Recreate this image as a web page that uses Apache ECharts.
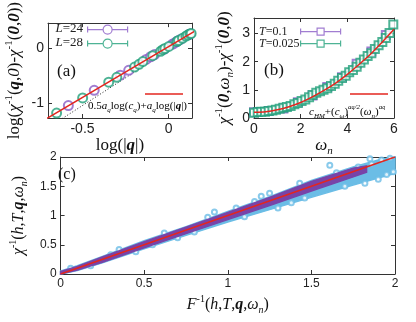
<!DOCTYPE html>
<html>
<head>
<meta charset="utf-8">
<script src="https://cdn.jsdelivr.net/npm/echarts@6/dist/echarts.min.js"></script>
<style>
html, body { margin: 0; padding: 0; background: #fff; }
#main { width: 416px; height: 322px; }
</style>
</head>
<body>
<div id="main"></div>
<script>
// ---- panel (a): log(|q|) vs log(chi^-1) ----
const qL24 = [-0.582, -0.432, -0.281, -0.232, -0.131, -0.105, -0.082, -0.025, 0.020, 0.033, 0.046, 0.068, 0.117, 0.125];
const chiL24 = [-1.05, -0.77, -0.49, -0.40, -0.20, -0.15, -0.11, -0.01, 0.08, 0.10, 0.13, 0.17, 0.26, 0.27];
const qL28 = [-0.650, -0.499, -0.348, -0.301, -0.198, -0.172, -0.150, -0.093, -0.047, -0.034, -0.022, 0.001, 0.048, 0.057, 0.080, 0.100, 0.110, 0.124, 0.130];
const chiL28 = [-1.19, -0.91, -0.62, -0.53, -0.34, -0.29, -0.24, -0.13, -0.05, -0.02, 0.00, 0.04, 0.13, 0.15, 0.19, 0.23, 0.25, 0.27, 0.28];
const fitAx = [-0.75, 0.15];
const fitAy = [-1.37, 0.32];
const guideAx = [-0.72, 0.15];
const guideAy = [-1.50, 0.28];
const ticksAx = [-0.5, 0];
const ticksAy = [-1, 0];

// ---- panel (b): omega_n dependence ----
const wT01 = [0, 0.63, 1.26, 1.88, 2.51, 3.14, 3.77, 4.40, 5.03, 5.65];
const chiT01 = [0.20, 0.25, 0.34, 0.56, 0.80, 1.10, 1.45, 1.93, 2.36, 2.95];
const wT0025 = [0, 0.16, 0.31, 0.47, 0.63, 0.79, 0.94, 1.10, 1.26, 1.41, 1.57, 1.73, 1.88, 2.04, 2.20, 2.36, 2.51, 2.67, 2.83, 2.98,
  3.14, 3.30, 3.46, 3.61, 3.77, 3.93, 4.08, 4.24, 4.40, 4.56, 4.71, 4.87, 5.03, 5.18, 5.34, 5.50, 5.65, 5.81, 5.97];
const chiT0025 = [0.19, 0.21, 0.22, 0.22, 0.25, 0.27, 0.29, 0.33, 0.36, 0.39, 0.43, 0.49, 0.53, 0.60, 0.66, 0.74, 0.82, 0.90, 0.95, 1.00,
  1.06, 1.14, 1.22, 1.32, 1.42, 1.50, 1.62, 1.70, 1.82, 1.96, 2.08, 2.20, 2.30, 2.45, 2.58, 2.70, 2.84, 3.02, 3.32];
const fitBx = [0, 0.5, 1, 1.5, 2, 2.5, 3, 3.5, 4, 4.5, 5, 5.5, 6];
const fitBy = [0.20, 0.22, 0.29, 0.40, 0.55, 0.75, 0.98, 1.24, 1.55, 1.90, 2.27, 2.70, 3.15];
const ticksBy = [0, 1, 2, 3];

// ---- panel (c): collapse, cloud edges ----
const cX = [0, 0.1, 0.25, 0.5, 0.75, 1.0, 1.25, 1.5, 1.75, 1.9, 2.0];
const cyanLo = [0.00, 0.06, 0.19, 0.43, 0.66, 0.89, 1.10, 1.31, 1.52, 1.64, 1.72];
const cyanHi = [0.05, 0.14, 0.30, 0.57, 0.81, 1.07, 1.32, 1.60, 1.83, 1.95, 2.00];
const pX = [0, 0.1, 0.25, 0.5, 0.75, 1.0, 1.25, 1.5, 1.75, 1.83];
const purpleLo = [0.00, 0.07, 0.20, 0.45, 0.69, 0.93, 1.17, 1.42, 1.66, 1.74];
const purpleHi = [0.04, 0.13, 0.29, 0.55, 0.80, 1.05, 1.31, 1.58, 1.81, 1.85];
const strayX = [0.06, 0.18, 0.30, 0.35, 0.45, 0.55, 0.62, 0.70, 0.80, 0.88, 0.92, 1.05, 1.10, 1.16, 1.20, 1.25, 1.30, 1.38, 1.43,
  1.46, 1.55, 1.61, 1.65, 1.70, 1.78, 1.82, 1.86, 1.90, 1.92, 1.95, 1.97, 1.99, 1.85];
const strayY = [0.10, 0.14, 0.33, 0.42, 0.38, 0.50, 0.70, 0.62, 0.72, 0.97, 1.06, 1.13, 0.98, 1.24, 1.33, 1.38, 1.13, 1.22, 1.55,
  1.30, 1.50, 1.86, 1.73, 1.50, 1.83, 1.55, 1.88, 1.62, 1.95, 1.70, 1.98, 1.75, 1.97];
const fitCx = [0, 2];
const fitCy = [0, 2];

const SERIF = '"Liberation Serif", "Times New Roman", serif';
const SANS = '"Liberation Sans", Arial, sans-serif';
const PURPLE = '#8a5cc6', GREEN = '#22a07a', RED = '#e3261f', CYAN = '#6bbde6', PURPLE_C = '#7844a8';
const AX = '#333';

const pairs = (xs, ys) => xs.map((x, i) => [x, ys[i]]);

function richSet(size) {
  const base = { fontFamily: SERIF, fontSize: size, lineHeight: size + 5, color: '#111', verticalAlign: 'middle' };
  const small = Math.round(size * 0.62);
  return {
    t: base,
    i: Object.assign({}, base, { fontStyle: 'italic' }),
    b: Object.assign({}, base, { fontStyle: 'italic', fontWeight: 'bold' }),
    sup: Object.assign({}, base, { fontSize: small, lineHeight: small, verticalAlign: 'top' }),
    sub: Object.assign({}, base, { fontSize: small, lineHeight: small, verticalAlign: 'bottom', fontStyle: 'italic' })
  };
}

function xAxisPair(grid, min, max, ticks, size, name, gap) {
  const common = {
    gridIndex: grid, type: 'value', min: min, max: max,
    axisLine: { show: true, onZero: false, lineStyle: { color: AX, width: 1 } },
    axisTick: { show: true, inside: true, length: 4, lineStyle: { color: AX }, customValues: ticks },
    splitLine: { show: false }
  };
  return [
    Object.assign({}, common, {
      position: 'bottom',
      axisLabel: { customValues: ticks, fontFamily: SANS, fontSize: size, color: '#222', margin: 4 },
      name: name, nameLocation: 'middle', nameGap: gap,
      nameTextStyle: { rich: richSet(size === 12 ? 16 : 17) }
    }),
    Object.assign({}, common, { position: 'top', axisLabel: { show: false } })
  ];
}

function yAxisPair(grid, min, max, ticks, size, name, gap) {
  const common = {
    gridIndex: grid, type: 'value', min: min, max: max,
    axisLine: { show: true, onZero: false, lineStyle: { color: AX, width: 1 } },
    axisTick: { show: true, inside: true, length: 4, lineStyle: { color: AX }, customValues: ticks },
    splitLine: { show: false }
  };
  return [
    Object.assign({}, common, {
      position: 'left',
      axisLabel: { customValues: ticks, fontFamily: SANS, fontSize: size, color: '#222', margin: 4 },
      name: name, nameLocation: 'middle', nameGap: gap,
      nameTextStyle: { rich: richSet(size === 12 ? 16 : 17) }
    }),
    Object.assign({}, common, { position: 'right', axisLabel: { show: false } })
  ];
}

const nameAx = '{t|log(|}{b|q}{t||)}';
const nameAy = '{t|log(}{i|χ}{sup|-1}{t|(}{b|q}{t|,}{i|0}{t|)-}{i|χ}{sup|-1}{t|(}{b|0}{t|,}{b|0}{t|))}';
const nameBx = '{i|ω}{sub|n}';
const nameBy = '{i|χ}{sup|-1}{t|(}{b|0}{t|,}{i|ω}{sub|n}{t|)-}{i|χ}{sup|-1}{t|(}{b|0}{t|,}{b|0}{t|)}';
const nameCx = '{i|F}{sup|-1}{t|(}{i|h}{t|,}{i|T}{t|,}{b|q}{t|,}{i|ω}{sub|n}{t|)}';
const nameCy = '{i|χ}{sup|-1}{t|(}{i|h}{t|,}{i|T}{t|,}{b|q}{t|,}{i|ω}{sub|n}{t|)}';

const xAxes = [].concat(
  xAxisPair(0, -0.70, 0.135, ticksAx, 14, nameAx, 11),
  xAxisPair(1, 0, 6, [0, 2, 4, 6], 14, nameBx, 12),
  xAxisPair(2, 0, 2, [0, 0.5, 1, 1.5, 2], 12, nameCx, 20)
);
const yAxes = [].concat(
  yAxisPair(0, -1.28, 0.47, ticksAy, 14, nameAy, 22),
  yAxisPair(1, 0, 3.55, ticksBy, 14, nameBy, 18),
  yAxisPair(2, 0, 2, [0, 0.5, 1, 1.5, 2], 12, nameCy, 21)
);

// error-bar style key icons
const circIcon = 'path://M0,4.5L15.5,4.5M24.5,4.5L40,4.5M0,1.5L0,7.5M40,1.5L40,7.5M24.5,4.5A4.5,4.5 0 1 1 15.5,4.5A4.5,4.5 0 1 1 24.5,4.5';
const rectIcon = 'path://M0,4.5L16.5,4.5M23.5,4.5L40,4.5M0,1.5L0,7.5M40,1.5L40,7.5M16.5,1L23.5,1L23.5,8L16.5,8Z';

function keyLegend(name, icon, color, left, cy) {
  return {
    left: left, top: cy - 4.5, padding: 0, itemWidth: 40, itemHeight: 9, selectedMode: false,
    formatter: () => '', textStyle: { fontSize: 1, lineHeight: 1 },
    data: [{ name: name, icon: icon, itemStyle: { color: 'rgba(0,0,0,0)', borderColor: color, borderWidth: 1.2 } }]
  };
}

function keyText(head, tail, x, y, size, align) {
  return { type: 'text', x: x, y: y, style: {
    text: '{i|' + head + '}{n|' + tail + '}', align: align, verticalAlign: 'middle',
    rich: { i: { fontFamily: SERIF, fontSize: size, fontStyle: 'italic', fill: '#222' },
            n: { fontFamily: SERIF, fontSize: size, fill: '#222' } } } };
}

const fs = richSet(11);
fs.s = fs.t; fs.si = fs.i; fs.sb = fs.b;
fs.ss = Object.assign({}, fs.sub);
fs.sp = Object.assign({}, fs.sup, { fontStyle: 'italic' });
fs.spq = Object.assign({}, fs.sup, { fontSize: 6, lineHeight: 4, fontStyle: 'italic', verticalAlign: 'top' });

// band of the dense point cloud, drawn through the axis scale
function bandSeries(name, xs, lo, hi, color, z) {
  return {
    name: name, type: 'custom', xAxisIndex: 4, yAxisIndex: 4, z: z,
    data: xs.map((x, i) => [x, lo[i], hi[i]]),
    renderItem: function (params, api) {
      if (params.dataIndex !== 0) return null;
      const pts = [];
      xs.forEach((x, i) => pts.push(api.coord([x, lo[i]])));
      for (let i = xs.length - 1; i >= 0; i--) pts.push(api.coord([xs[i], hi[i]]));
      return { type: 'polygon', shape: { points: pts }, style: { fill: color, stroke: color, lineWidth: 1.5 } };
    }
  };
}

const option = {
  animation: false,
  backgroundColor: '#fff',
  grid: [
    { left: 48, top: 17, width: 144, height: 101 },
    { left: 254, top: 18, width: 140, height: 100 },
    { left: 49, top: 157, width: 346, height: 117 }
  ],
  xAxis: xAxes,
  yAxis: yAxes,
  legend: [
    keyLegend('L=24', circIcon, PURPLE, 87, 29),
    keyLegend('L=28', circIcon, GREEN, 87, 43),
    keyLegend('T=0.1', rectIcon, PURPLE, 300, 32),
    keyLegend('T=0.025', rectIcon, GREEN, 300, 44)
  ],
  graphic: [
    keyText('L', '=24', 83, 29, 13, 'right'),
    keyText('L', '=28', 83, 43, 13, 'right'),
    keyText('T', '=0.1', 259, 32, 12, 'left'),
    keyText('T', '=0.025', 259, 44, 12, 'left'),
    { type: 'text', x: 57, y: 72, style: { text: '(a)', font: '17px ' + SERIF, fill: '#111', verticalAlign: 'middle' } },
    { type: 'text', x: 264, y: 71, style: { text: '(b)', font: '17px ' + SERIF, fill: '#111', verticalAlign: 'middle' } },
    { type: 'text', x: 58, y: 175, style: { text: '(c)', font: '16px ' + SERIF, fill: '#111', verticalAlign: 'middle' } },
    { type: 'line', shape: { x1: 145, y1: 94, x2: 183, y2: 94 }, style: { stroke: RED, lineWidth: 1.5 } },
    { type: 'line', shape: { x1: 350, y1: 94, x2: 388, y2: 94 }, style: { stroke: RED, lineWidth: 1.5 } },
    { type: 'text', x: 88, y: 106, style: {
        text: '{s|0.5}{si|a}{ss|q}{s|log(}{si|c}{ss|q}{s|)+}{si|a}{ss|q}{s|log(|}{sb|q}{s||)}',
        rich: fs, verticalAlign: 'middle' } },
    { type: 'text', x: 309, y: 112, style: {
        text: '{si|c}{ss|HM}{s|+(}{si|c}{ss|ω}{s|)}{sp|a}{spq|q}{sp|/2}{s|(}{si|ω}{ss|n}{s|)}{sp|a}{spq|q}',
        rich: fs, verticalAlign: 'middle' } }
  ],
  series: [
    // panel (a)
    { name: 'guide', type: 'line', xAxisIndex: 0, yAxisIndex: 0, data: pairs(guideAx, guideAy), symbol: 'none',
      lineStyle: { color: '#222', width: 1, type: [1, 2] }, z: 2 },
    { name: 'L=24', type: 'scatter', xAxisIndex: 0, yAxisIndex: 0, data: pairs(qL24, chiL24), symbol: 'emptyCircle',
      symbolSize: 9, itemStyle: { color: PURPLE, borderColor: PURPLE, borderWidth: 1.2 }, z: 3 },
    { name: 'L=28', type: 'scatter', xAxisIndex: 0, yAxisIndex: 0, data: pairs(qL28, chiL28), symbol: 'emptyCircle',
      symbolSize: 9, itemStyle: { color: GREEN, borderColor: GREEN, borderWidth: 1.2 }, z: 4 },
    { name: 'fitA', type: 'line', xAxisIndex: 0, yAxisIndex: 0, data: pairs(fitAx, fitAy), symbol: 'none',
      lineStyle: { color: RED, width: 1.5 }, z: 5 },
    // panel (b)
    { name: 'T=0.1', type: 'scatter', xAxisIndex: 2, yAxisIndex: 2, data: pairs(wT01, chiT01), symbol: 'emptyRect',
      symbolSize: 8, itemStyle: { color: PURPLE, borderColor: PURPLE, borderWidth: 1.2 }, z: 3 },
    { name: 'T=0.025', type: 'scatter', xAxisIndex: 2, yAxisIndex: 2, data: pairs(wT0025, chiT0025), symbol: 'emptyRect',
      symbolSize: 8, itemStyle: { color: GREEN, borderColor: GREEN, borderWidth: 1.2 }, z: 4 },
    { name: 'fitB', type: 'line', xAxisIndex: 2, yAxisIndex: 2, data: pairs(fitBx, fitBy), symbol: 'none', smooth: 0.3,
      lineStyle: { color: RED, width: 1.5 }, z: 5 },
    // panel (c)
    bandSeries('cyanBand', cX, cyanLo, cyanHi, CYAN, 2),
    { name: 'stray', type: 'scatter', xAxisIndex: 4, yAxisIndex: 4, data: pairs(strayX, strayY), symbol: 'emptyCircle',
      symbolSize: 5, itemStyle: { color: CYAN, borderColor: CYAN, borderWidth: 1 }, z: 3 },
    bandSeries('purpleBand', pX, purpleLo, purpleHi, PURPLE_C, 4),
    { name: 'fitC', type: 'line', xAxisIndex: 4, yAxisIndex: 4, data: pairs(fitCx, fitCy), symbol: 'none',
      lineStyle: { color: RED, width: 1.5 }, z: 5 }
  ]
};

const chart = echarts.init(document.getElementById('main'), null, { renderer: 'canvas' });
chart.setOption(option);
</script>
</body>
</html>
